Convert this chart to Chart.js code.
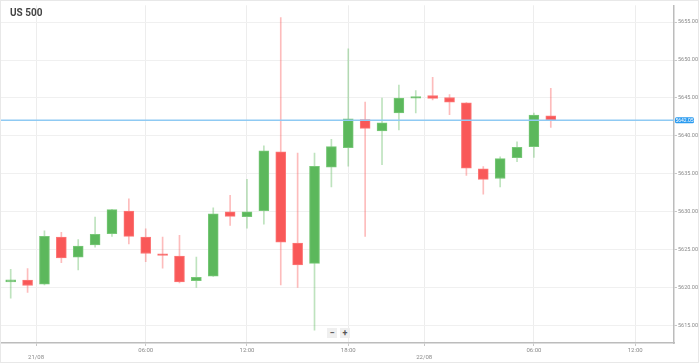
<!DOCTYPE html>
<html>
<head>
<meta charset="utf-8">
<script src="https://cdn.jsdelivr.net/npm/chart.js@4"></script>
<style>
    html, body { margin: 0; padding: 0; background: #fff; }
    #wrap { position: relative; width: 699px; height: 363px; box-sizing: border-box; border: 1px solid #e8e8e8; }
    #chartUS500 { display: block; }
    #title { position: absolute; left: 9px; top: 6px; font: bold 10px Roboto, sans-serif; color: #444; }
    .zbtn { position: absolute; top: 327px; width: 10px; height: 10px; background: #efefef; color: #555;
            font: bold 9px/10px Roboto, sans-serif; text-align: center; }
</style>
</head>
<body>
<div id="wrap">
    <canvas id="chartUS500" width="697" height="361"></canvas>
    <div id="title">US 500</div>
    <div class="zbtn" style="left:326px">&minus;</div>
    <div class="zbtn" style="left:339px">+</div>
</div>
<script>
// hourly candles, index 0..32
let opens  = [5620.73, 5620.95, 5620.43, 5626.63, 5624.00, 5625.59, 5627.08, 5630.07, 5626.63, 5624.42, 5624.12,
              5620.90, 5621.48, 5629.98, 5629.33, 5630.11, 5637.89, 5625.85, 5623.17, 5635.85, 5638.45, 5642.14,
              5640.63, 5643.01, 5644.97, 5645.32, 5645.06, 5644.36, 5635.63, 5634.37, 5637.11, 5638.58, 5642.62];
let highs  = [5622.39, 5622.47, 5627.47, 5627.25, 5626.30, 5629.29, 5630.31, 5631.68, 5627.73, 5626.63, 5626.86,
              5624.00, 5630.50, 5632.16, 5634.24, 5638.68, 5655.61, 5637.71, 5637.71, 5639.53, 5651.48, 5644.45,
              5644.97, 5646.70, 5645.97, 5647.70, 5645.45, 5644.38, 5635.94, 5637.24, 5639.19, 5643.01, 5646.27];
let lows   = [5618.56, 5619.34, 5620.34, 5623.25, 5622.30, 5625.29, 5626.73, 5625.72, 5623.38, 5622.52, 5620.60,
              5619.99, 5621.45, 5628.16, 5627.81, 5628.33, 5620.34, 5619.99, 5614.35, 5633.24, 5635.98, 5626.73,
              5636.20, 5640.76, 5643.01, 5644.75, 5642.79, 5634.77, 5632.29, 5633.24, 5636.59, 5637.15, 5641.10];
let closes = [5620.99, 5620.25, 5626.73, 5623.90, 5625.46, 5626.99, 5630.25, 5626.73, 5624.47, 5624.21, 5620.73,
              5621.34, 5629.72, 5629.37, 5629.98, 5638.02, 5625.98, 5622.95, 5635.98, 5638.58, 5642.23, 5640.97,
              5641.71, 5644.97, 5645.16, 5644.93, 5644.45, 5635.72, 5634.25, 5636.98, 5638.49, 5642.75, 5642.05];

let currentPrice = 5642.05;

// time axis ticks (in candle index units) and their labels
let xTickPos    = [1.5, 8, 14, 20, 24.5, 31, 37];
let xTickLabels = ['21/08', '06:00', '12:00', '18:00', '22/08', '06:00', '12:00'];
let xTickIsDate = [true, false, false, false, true, false, false];

let yTicks = [5615, 5620, 5625, 5630, 5635, 5640, 5645, 5650, 5655];

let green = '#5cb85c';
let red = '#f95858';

let bodies = [];
let wicks = [];
let bodyColors = [];
let bodyBorders = [];
let wickColors = [];
for (let i = 0; i < opens.length; i++) {
    bodies.push({ x: i, y: [opens[i], closes[i]] });
    wicks.push({ x: i, y: [lows[i], highs[i]] });
    let up = closes[i] >= opens[i];
    bodyColors.push(up ? green : red);
    bodyBorders.push(up ? 'rgba(120,200,120,1)' : 'rgba(252,120,120,1)');
    wickColors.push(up ? 'rgba(92,184,92,0.4)' : 'rgba(249,88,88,0.4)');
}

// current price line + label
let priceLine = {
    id: 'priceLine',
    afterDatasetsDraw(chart) {
        let ctx = chart.ctx;
        let y = chart.scales.y.getPixelForValue(currentPrice);
        let area = chart.chartArea;
        ctx.save();
        ctx.strokeStyle = '#8fcaf3';
        ctx.lineWidth = 1.5;
        ctx.beginPath();
        ctx.moveTo(area.left, y);
        ctx.lineTo(area.right, y);
        ctx.stroke();
        ctx.fillStyle = '#2a9bf0';
        ctx.beginPath();
        ctx.roundRect(area.right + 1, y - 3, 19, 6, 1.5);
        ctx.fill();
        ctx.fillStyle = '#fff';
        ctx.font = '5px Roboto';
        ctx.textAlign = 'center';
        ctx.textBaseline = 'middle';
        ctx.fillText(currentPrice.toFixed(2), area.right + 10.5, y + 0.3);
        ctx.restore();
    }
};

let chartUS500 = new Chart(document.getElementById('chartUS500'), {
    type: 'bar',
    data: {
        datasets: [
            {
                label: 'body',
                data: bodies,
                backgroundColor: bodyColors,
                borderColor: bodyBorders,
                borderWidth: 1,
                borderSkipped: false,
                barThickness: 10,
                grouped: false,
                order: 1
            },
            {
                label: 'wick',
                data: wicks,
                backgroundColor: wickColors,
                borderWidth: 0,
                barThickness: 1,
                grouped: false,
                order: 2
            }
        ]
    },
    options: {
        responsive: false,
        animation: false,
        layout: { padding: 0 },
        plugins: {
            legend: { display: false },
            tooltip: { enabled: false }
        },
        scales: {
            x: {
                type: 'linear',
                min: -0.575,
                max: 39.3,
                offset: false,
                afterBuildTicks: function (scale) {
                    scale.ticks = xTickPos.map(v => ({ value: v }));
                },
                afterFit: function (scale) {
                    scale.height = 19;
                },
                ticks: {
                    autoSkip: false,
                    maxRotation: 0,
                    padding: 1,
                    color: '#8a8a8a',
                    font: { family: 'Roboto', size: 6 },
                    callback: function (value) {
                        let k = xTickPos.indexOf(value);
                        if (k < 0) return '';
                        return xTickIsDate[k] ? ['', xTickLabels[k]] : xTickLabels[k];
                    }
                },
                grid: { offset: false, color: '#ededed', tickColor: '#c8c8c8', tickLength: 3 },
                border: { color: '#bcbcbc', width: 1.5 }
            },
            y: {
                position: 'right',
                min: 5612.66,
                max: 5657.22,
                afterBuildTicks: function (scale) {
                    scale.ticks = yTicks.map(v => ({ value: v }));
                },
                afterFit: function (scale) {
                    scale.width = 24;
                },
                ticks: {
                    padding: 1,
                    color: '#8a8a8a',
                    font: { family: 'Roboto', size: 5.5 },
                    callback: v => v.toFixed(2)
                },
                grid: { color: '#f0f0f0', tickColor: '#c8c8c8', tickLength: 3 },
                border: { color: '#bcbcbc', width: 1.5 }
            }
        }
    },
    plugins: [priceLine]
});
</script>
</body>
</html>
